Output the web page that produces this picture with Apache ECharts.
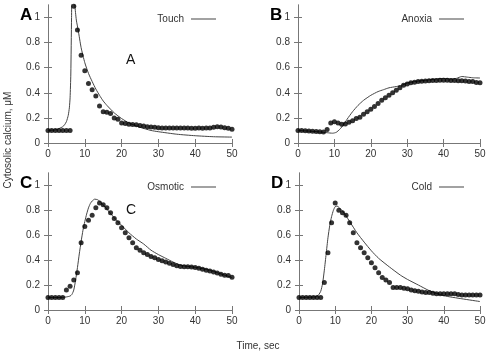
<!DOCTYPE html>
<html>
<head>
<meta charset="utf-8">
<script src="https://cdn.jsdelivr.net/npm/echarts@6/dist/echarts.min.js"></script>
<style>
  html, body { margin: 0; padding: 0; background: #fff; }
  #chart { width: 490px; height: 358px; }
</style>
</head>
<body>
<div id="chart"></div>
<script>
// measured points, one per second
const dotTimes = [0,1,2,3,4,5,6,7,8,9,10,11,12,13,14,15,16,17,18,19,20,21,22,23,24,25,26,27,28,29,30,31,32,33,34,35,36,37,38,39,40,41,42,43,44,45,46,47,48,49,50]

const touchDots = [0.1,0.1,0.1,0.1,0.1,0.1,0.1,1.09,0.9,0.7,0.575,0.475,0.425,0.375,0.295,0.25,0.245,0.235,0.2,0.19,0.16,0.155,0.15,0.148,0.145,0.14,0.135,0.13,0.128,0.125,0.122,0.12,0.12,0.12,0.12,0.12,0.12,0.12,0.12,0.118,0.118,0.12,0.118,0.12,0.12,0.125,0.13,0.128,0.122,0.118,0.11]
const anoxiaDots = [0.1,0.1,0.097,0.095,0.093,0.092,0.09,0.088,0.108,0.16,0.17,0.16,0.15,0.152,0.165,0.178,0.195,0.205,0.23,0.25,0.27,0.29,0.315,0.34,0.36,0.38,0.4,0.42,0.44,0.46,0.47,0.48,0.485,0.49,0.492,0.495,0.497,0.498,0.498,0.5,0.5,0.5,0.498,0.498,0.497,0.497,0.495,0.49,0.49,0.483,0.48]
const osmoticDots = [0.1,0.1,0.1,0.1,0.1,0.16,0.19,0.24,0.3,0.54,0.67,0.72,0.76,0.82,0.86,0.845,0.82,0.78,0.735,0.7,0.66,0.62,0.58,0.54,0.5,0.48,0.46,0.445,0.43,0.42,0.405,0.395,0.385,0.375,0.365,0.355,0.35,0.348,0.347,0.345,0.342,0.335,0.328,0.32,0.313,0.305,0.297,0.288,0.28,0.278,0.262]
const coldDots = [0.1,0.1,0.1,0.1,0.1,0.1,0.1,0.22,0.46,0.7,0.86,0.8,0.78,0.76,0.7,0.62,0.54,0.5,0.46,0.42,0.38,0.34,0.3,0.26,0.24,0.22,0.18,0.18,0.18,0.175,0.17,0.16,0.155,0.15,0.145,0.14,0.14,0.135,0.13,0.13,0.13,0.13,0.13,0.13,0.125,0.12,0.12,0.12,0.12,0.12,0.12]

// model curves
const touchFitX = [0,2,3,4,4.5,5,5.5,5.8,6,6.2,6.4,6.6,7,7.3,7.7,8.2,9,10,11,12,13,14,15,16,18,20,22,25,28,30,35,40,45,50]
const touchFitY = [0.1,0.105,0.115,0.13,0.145,0.17,0.22,0.28,0.36,0.55,1.0,1.4,1.4,1.1,0.98,0.9,0.76,0.64,0.555,0.49,0.43,0.38,0.335,0.3,0.24,0.195,0.16,0.125,0.1,0.09,0.07,0.058,0.05,0.047]
const anoxiaFitX = [0,3,6,8,9.5,10.5,11.5,12.5,13.5,15,16.5,18,20,22,23.5,25,27,28.5,30,32,35,38,40,42,43.5,45,46.5,48,50]
const anoxiaFitY = [0.1,0.095,0.088,0.082,0.078,0.085,0.11,0.145,0.19,0.25,0.3,0.34,0.38,0.41,0.425,0.44,0.45,0.46,0.478,0.49,0.5,0.51,0.515,0.51,0.515,0.53,0.525,0.52,0.518]
const osmoticFitX = [0,3,5,6,6.5,7,7.5,8,8.5,9,9.5,10,10.5,11,11.5,12,12.7,13.5,14.5,16,18,20,22,24,26,28,30,32,34,36,38,40,42,44,46,48,50]
const osmoticFitY = [0.1,0.1,0.105,0.112,0.125,0.16,0.24,0.34,0.45,0.55,0.64,0.71,0.77,0.82,0.855,0.875,0.89,0.885,0.86,0.81,0.74,0.68,0.62,0.57,0.53,0.48,0.445,0.415,0.385,0.36,0.35,0.343,0.333,0.32,0.3,0.28,0.26]
const coldFitX = [0,4,5,5.5,6,6.5,7,7.5,8,8.5,9,9.5,10,10.5,11,12,13,14,16,18,20,22,25,28,30,33,36,40,45,50]
const coldFitY = [0.1,0.105,0.11,0.125,0.15,0.21,0.32,0.45,0.58,0.68,0.75,0.8,0.83,0.835,0.825,0.795,0.755,0.71,0.62,0.545,0.475,0.415,0.345,0.28,0.245,0.2,0.155,0.115,0.09,0.068]

const panelNames = ['Touch', 'Anoxia', 'Osmotic', 'Cold']
const panelLetters = ['A', 'B', 'C', 'D']
const yTicks = [0, 0.2, 0.4, 0.6, 0.8, 1]

const panels = [
  { name: panelNames[0], dots: touchDots, fx: touchFitX, fy: touchFitY, left: 48, top: 5, width: 184, height: 138 },
  { name: panelNames[1], dots: anoxiaDots, fx: anoxiaFitX, fy: anoxiaFitY, left: 298, top: 5, width: 182, height: 138 },
  { name: panelNames[2], dots: osmoticDots, fx: osmoticFitX, fy: osmoticFitY, left: 48, top: 173, width: 184, height: 137 },
  { name: panelNames[3], dots: coldDots, fx: coldFitX, fy: coldFitY, left: 299, top: 173, width: 181, height: 137 }
]

const frameColor = '#777'
const font = 'Liberation Sans'

let grid = []
let xAxis = []
let yAxis = []
let series = []
let legend = []
let graphic = []

panels.forEach((p, i) => {
  grid.push({ left: p.left, top: p.top, width: p.width, height: p.height })
  const tick = { show: true, inside: true, length: 4, lineStyle: { color: frameColor } }
  const yTick = { show: true, inside: true, length: 4, lineStyle: { color: frameColor }, customValues: yTicks }
  const line = { show: true, lineStyle: { color: frameColor, width: 1 } }
  // bottom + top x axes
  xAxis.push({
    type: 'value', gridIndex: i, position: 'bottom', min: 0, max: 50, interval: 10,
    axisLine: line, axisTick: tick, splitLine: { show: false },
    axisLabel: { color: '#333', fontSize: 10, fontFamily: font, margin: 6 }
  })
  xAxis.push({
    type: 'value', gridIndex: i, position: 'top', min: 0, max: 50, interval: 10,
    axisLine: line, axisTick: tick, splitLine: { show: false }, axisLabel: { show: false }
  })
  // left + right y axes
  yAxis.push({
    type: 'value', gridIndex: i, position: 'left', min: 0, max: 1.1, interval: 0.2,
    axisLine: line, axisTick: yTick, splitLine: { show: false },
    axisLabel: { color: '#333', fontSize: 10, fontFamily: font, margin: 8, customValues: yTicks }
  })
  yAxis.push({
    type: 'value', gridIndex: i, position: 'right', min: 0, max: 1.1, interval: 0.2,
    axisLine: line, axisTick: yTick, splitLine: { show: false }, axisLabel: { show: false }
  })

  series.push({
    name: p.name, type: 'line', xAxisIndex: i * 2, yAxisIndex: i * 2,
    data: p.fx.map((x, k) => [x, p.fy[k]]),
    showSymbol: false, symbol: 'none', clip: true, smooth: 0.2,
    lineStyle: { color: '#444', width: 1 }, z: 2, animation: false
  })
  series.push({
    name: p.name + ' data', type: 'scatter', xAxisIndex: i * 2, yAxisIndex: i * 2,
    data: dotTimes.map((t, k) => [t, p.dots[k]]),
    symbol: 'circle', symbolSize: 5, clip: true,
    itemStyle: { color: '#000' }, z: 3, animation: false
  })

  legend.push({
    data: [p.name], right: 490 - (p.left + p.width - 11), top: p.top + 4,
    align: 'right', icon: 'rect', itemWidth: 25, itemHeight: 1, itemGap: 0,
    textStyle: { color: '#333', fontSize: 10, fontFamily: font, padding: [0, 2, 0, 0] },
    itemStyle: { color: '#444' }, selectedMode: false
  })

  graphic.push({
    type: 'text', left: p.left - 28, top: p.top + 2,
    style: { text: panelLetters[i], fontSize: 17, fontWeight: 'bold', fontFamily: font, fill: '#000' }
  })
})

// letters written inside panels A and C
graphic.push({ type: 'text', left: 126, top: 53, style: { text: 'A', fontSize: 14, fontFamily: font, fill: '#111' } })
graphic.push({ type: 'text', left: 126, top: 203, style: { text: 'C', fontSize: 14, fontFamily: font, fill: '#111' } })

// shared axis titles
graphic.push({
  type: 'text', x: 8.5, y: 140, rotation: Math.PI / 2,
  style: { text: 'Cytosolic calcium, μM', fontSize: 10, fontFamily: font, fill: '#333', align: 'center', verticalAlign: 'middle' }
})
graphic.push({
  type: 'text', x: 258, y: 346,
  style: { text: 'Time, sec', fontSize: 10, fontFamily: font, fill: '#333', align: 'center', verticalAlign: 'middle' }
})

const chart = echarts.init(document.getElementById('chart'))
chart.setOption({
  animation: false,
  grid: grid,
  xAxis: xAxis,
  yAxis: yAxis,
  legend: legend,
  series: series,
  graphic: graphic
})
</script>
</body>
</html>
